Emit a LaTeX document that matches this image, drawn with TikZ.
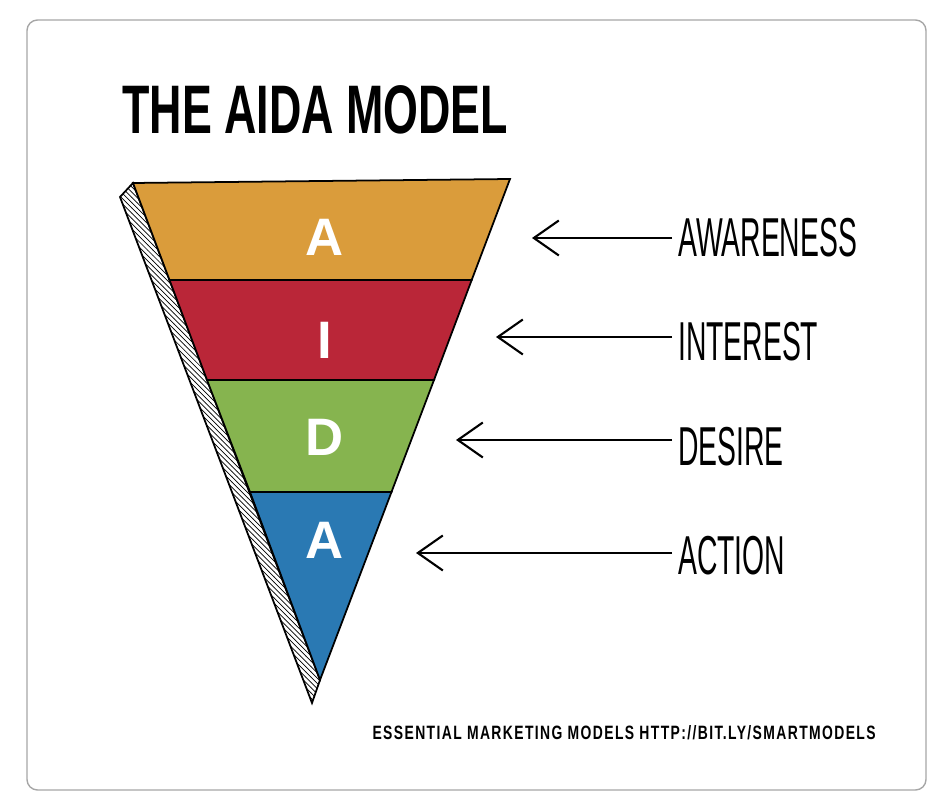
\documentclass[tikz,border=0pt]{standalone}
\usepackage{fontspec}
\setmainfont{Liberation Sans}
\usetikzlibrary{arrows.meta,patterns}
\definecolor{aOrange}{HTML}{DA9C3B}
\definecolor{aRed}{HTML}{BA2638}
\definecolor{aGreen}{HTML}{86B44F}
\definecolor{aBlue}{HTML}{2A79B3}
\tikzset{
  band/.style={draw=black, line width=1pt},
  letter/.style={text=white, font=\bfseries\fontsize{30}{30}\selectfont},
  stage/.style={anchor=west, font=\fontsize{26}{26}\selectfont},
  pointer/.style={line width=1.2pt, -{Straight Barb[length=5mm,width=7mm]}}
}
\begin{document}
\begin{tikzpicture}[x=0.02cm,y=-0.02cm]
  \useasboundingbox (0,0) rectangle (944,793);
  % frame
  \draw[gray!70, line width=0.8pt, rounded corners=6pt] (27,20) rectangle (926,790);
  % title
  \node[anchor=west, inner sep=0pt, font=\bfseries\fontsize{34}{34}\selectfont] (title) at (122,110)
    {\scalebox{0.75}[1.15]{THE AIDA MODEL}};
  % side strip
  \filldraw[line width=1pt, pattern=north west lines, draw=black]
    (120,197) -- (133,183) -- (320,680) -- (312,703) -- cycle;
  % bands
  \filldraw[band, fill=aOrange] (133,183) -- (510,179) -- (471.7,280) -- (169.5,280) -- cycle;
  \filldraw[band, fill=aRed] (169.5,280) -- (471.7,280) -- (434,380) -- (207,380) -- cycle;
  \filldraw[band, fill=aGreen] (207,380) -- (434,380) -- (391.5,492) -- (250,492) -- cycle;
  \filldraw[band, fill=aBlue] (250,492) -- (391.5,492) -- (320,680) -- cycle;
  % letters
  \node[letter] (la) at (325,237) {A};
  \node[letter] (li) at (325,340) {I};
  \node[letter] (ld) at (325,437) {D};
  \node[letter] (lb) at (325,540) {A};
  % labels and arrows
  \node[stage] (aw) at (672,238) {\scalebox{0.62}[1.2]{AWARENESS}};
  \node[stage] (in) at (672,342) {\scalebox{0.62}[1.2]{INTEREST}};
  \node[stage] (de) at (672,447) {\scalebox{0.62}[1.2]{DESIRE}};
  \node[stage] (ac) at (672,556) {\scalebox{0.62}[1.2]{ACTION}};
  \coordinate (ta) at (532,238);
  \coordinate (ti) at (496,337);
  \coordinate (td) at (456,440);
  \coordinate (tc) at (416,553);
  \draw[pointer] (aw.west |- ta) -- (ta);
  \draw[pointer] (in.west |- ti) -- (ti);
  \draw[pointer] (de.west |- td) -- (td);
  \draw[pointer] (ac.west |- tc) -- (tc);
  % footer
  \node[anchor=east, inner sep=0pt, font=\bfseries\fontsize{11}{11}\selectfont] (foot) at (876,733)
    {\scalebox{0.72}[1]{\addfontfeature{LetterSpace=10}ESSENTIAL MARKETING MODELS HTTP://BIT.LY/SMARTMODELS}};
\end{tikzpicture}
\end{document}
